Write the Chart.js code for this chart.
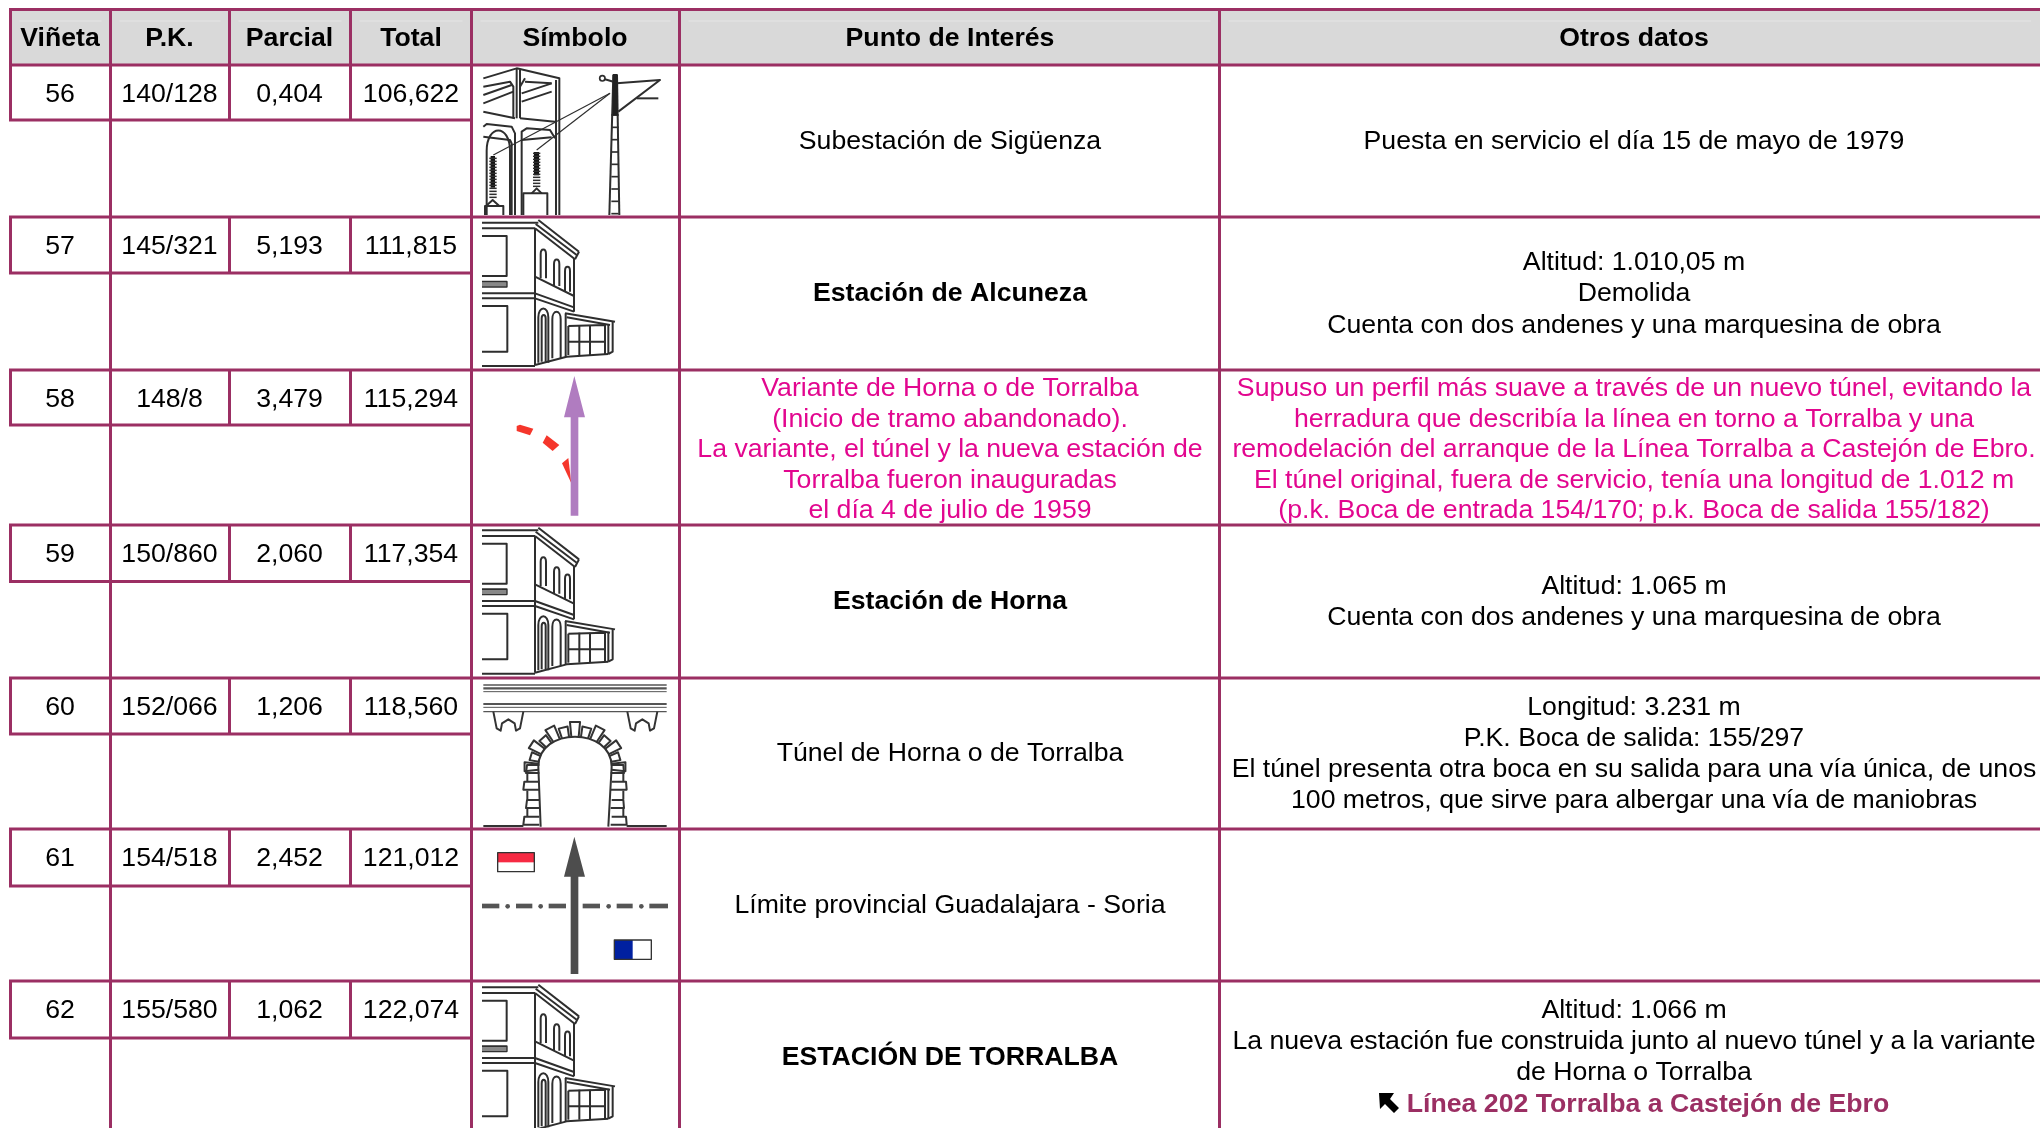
<!DOCTYPE html>
<html lang="es">
<head>
    <meta charset="UTF-8">
    <title> Puntos de interés </title>
    <style>
        body { margin: 0px; background: white; }
        canvas { display: block; }
    </style>
    <script src="https://cdn.jsdelivr.net/npm/chart.js"></script>
</head>
<body>
<canvas id="tabla" width="2040" height="1128"></canvas>

<script>
    // Contents of the table
    const cabeceras = ['Viñeta', 'P.K.', 'Parcial', 'Total', 'Símbolo', 'Punto de Interés', 'Otros datos'];
    const vinetas = ['56', '57', '58', '59', '60', '61', '62'];
    const pks = ['140/128', '145/321', '148/8', '150/860', '152/066', '154/518', '155/580'];
    const parciales = ['0,404', '5,193', '3,479', '2,060', '1,206', '2,452', '1,062'];
    const totales = ['106,622', '111,815', '115,294', '117,354', '118,560', '121,012', '122,074'];
    const simbolos = ['subestacion', 'estacion', 'variante', 'estacion', 'tunel', 'limite', 'estacion'];
    const puntos = [
        ['Subestación de Sigüenza'],
        ['Estación de Alcuneza'],
        ['Variante de Horna o de Torralba', '(Inicio de tramo abandonado).', 'La variante, el túnel y la nueva estación de', 'Torralba fueron inauguradas', 'el día 4 de julio de 1959'],
        ['Estación de Horna'],
        ['Túnel de Horna o de Torralba'],
        ['Límite provincial Guadalajara - Soria'],
        ['ESTACIÓN DE TORRALBA']
    ];
    const puntosNegrita = [false, true, false, true, false, false, true];
    const otros = [
        ['Puesta en servicio el día 15 de mayo de 1979'],
        ['Altitud: 1.010,05 m', 'Demolida', 'Cuenta con dos andenes y una marquesina de obra'],
        ['Supuso un perfil más suave a través de un nuevo túnel, evitando la', 'herradura que describía la línea en torno a Torralba y una', 'remodelación del arranque de la Línea Torralba a Castejón de Ebro.', 'El túnel original, fuera de servicio, tenía una longitud de 1.012 m', '(p.k. Boca de entrada 154/170; p.k. Boca de salida 155/182)'],
        ['Altitud: 1.065 m', 'Cuenta con dos andenes y una marquesina de obra'],
        ['Longitud: 3.231 m', 'P.K. Boca de salida: 155/297', 'El túnel presenta otra boca en su salida para una vía única, de unos', '100 metros, que sirve para albergar una vía de maniobras'],
        [],
        ['Altitud: 1.066 m', 'La nueva estación fue construida junto al nuevo túnel y a la variante', 'de Horna o Torralba']
    ];
    const enlaceLinea = 'Línea 202 Torralba a Castejón de Ebro';

    // Table geometry, in scale units (1 unit = 1 px)
    const MORADO = '#9b2f63';
    const ROSA = '#e2068f';
    const bordesX = [10.5, 110.5, 229.5, 350.5, 471.5, 679.5, 1219.5];
    const finX = 2040;
    const centrosX = [60, 169.5, 289.5, 411, 575, 950, 1634];
    const techo = 9.5;
    const pie = 65;
    const filasArriba = [65, 217, 370, 525, 678, 829, 981];
    const filasSub = [120, 273, 425, 581.5, 734, 886, 1038];
    const filasAbajo = [217, 370, 525, 678, 829, 981, 1133];
    const LINEA = 31.2;

    // Rules of the table, one path with gaps between the segments
    function reglas() {
        let p = [];
        function seg(x1, y1, x2, y2) {
            p.push({x: x1, y: y1}, {x: x2, y: y2}, {x: NaN, y: NaN});
        }
        seg(9, techo, finX, techo);
        seg(9, pie, finX, pie);
        [bordesX[0], bordesX[2], bordesX[3]].forEach(function (x) {
            seg(x, techo, x, pie);
            filasArriba.forEach(function (y, i) { seg(x, y, x, filasSub[i]); });
        });
        [bordesX[1], bordesX[4], bordesX[5], bordesX[6]].forEach(function (x) {
            seg(x, techo, x, 1128);
        });
        filasAbajo.forEach(function (y) { seg(9, y, finX, y); });
        filasSub.forEach(function (y) { seg(9, y, bordesX[4], y); });
        return p;
    }

    // Symbol drawings, coordinates at 3x of the real size
    const estacionTrazos = [
        [36, 518, 205, 518], [36, 535, 195, 535],
        [195, 535, 195, 945], [205, 510, 327, 605], [197, 522, 320, 615], [195, 535, 315, 628], [327, 605, 315, 628],
        [312, 625, 312, 785],
        [36, 558, 110, 558, 110, 678, 36, 678],
        [36, 695, 110, 695, 110, 710, 36, 710],
        [36, 730, 195, 730], [36, 745, 195, 745],
        [36, 768, 112, 768, 112, 905, 36, 905],
        [36, 948, 195, 948],
        [195, 680, 312, 738], [195, 730, 312, 772], [195, 745, 312, 785],
        [195, 945, 290, 920, 415, 912],
        [285, 790, 435, 815], [290, 802, 420, 825],
        [287, 790, 287, 920], [415, 822, 415, 912], [428, 815, 428, 905, 415, 912],
        [295, 828, 405, 825, 405, 912], [295, 828, 295, 915], [295, 875, 405, 875],
        [328, 825, 328, 915], [360, 825, 360, 915]
    ];
    const estacionArcos = [
        [212, 228, 598, 685], [252, 268, 628, 708], [285, 300, 650, 725],
        [205, 235, 775, 938], [215, 227, 795, 935], [247, 272, 785, 925]
    ];
    const subestacionTrazos = [
        [40, 85, 140, 55, 268, 85, 268, 495], [140, 55, 140, 205], [150, 60, 150, 205],
        [258, 90, 258, 495],
        [40, 110, 120, 95, 130, 110, 130, 205], [40, 135, 125, 105], [40, 160, 130, 125],
        [40, 185, 135, 205], [150, 205, 255, 215],
        [165, 95, 245, 100], [155, 130, 245, 100], [155, 155, 245, 125], [165, 85, 150, 110],
        [40, 230, 50, 222, 125, 230, 135, 250, 135, 495], [40, 260, 120, 270, 125, 280, 125, 495],
        [155, 495, 155, 245, 170, 235, 240, 240, 255, 265],
        [155, 270, 245, 262],
        [45, 495, 45, 468, 100, 468, 100, 495], [48, 468, 68, 450, 88, 468],
        [160, 495, 160, 430, 232, 430, 232, 495], [185, 430, 200, 415, 215, 430],
        [418, 495, 430, 75], [448, 495, 441, 75],
        [440, 100, 570, 90, 445, 185], [500, 145, 565, 145],
        [405, 88, 430, 95]
    ];
    const tunelBandas = [[45, 4], [55, 7], [65, 3], [102, 6], [112, 3], [125, 4]];

    function trazo(ctx, t) {
        ctx.beginPath();
        ctx.moveTo(t[0], t[1]);
        for (let i = 2; i < t.length; i += 2) {
            ctx.lineTo(t[i], t[i + 1]);
        }
        ctx.stroke();
    }

    function arco(ctx, a) {
        let h = (a[1] - a[0]) * 0.9;
        ctx.beginPath();
        ctx.moveTo(a[0], a[3]);
        ctx.lineTo(a[0], a[2] + h);
        ctx.bezierCurveTo(a[0], a[2] - h * 0.3, a[1], a[2] - h * 0.3, a[1], a[2] + h);
        ctx.lineTo(a[1], a[3]);
        ctx.stroke();
    }

    function poligono(ctx, t, color) {
        ctx.fillStyle = color;
        ctx.beginPath();
        ctx.moveTo(t[0], t[1]);
        for (let i = 2; i < t.length; i += 2) {
            ctx.lineTo(t[i], t[i + 1]);
        }
        ctx.closePath();
        ctx.fill();
    }

    function dibujaEstacion(ctx) {
        ctx.strokeStyle = '#2e2e2e';
        ctx.lineWidth = 6;
        estacionTrazos.forEach(function (t) { trazo(ctx, t); });
        estacionArcos.forEach(function (a) { arco(ctx, a); });
        ctx.fillStyle = '#888888';
        ctx.fillRect(36, 697, 73, 12);
    }

    function dibujaSubestacion(ctx) {
        ctx.strokeStyle = '#2e2e2e';
        ctx.lineWidth = 6;
        subestacionTrazos.forEach(function (t) { trazo(ctx, t); });
        arco(ctx, [50, 120, 240, 495]);
        ctx.lineWidth = 3.5;
        trazo(ctx, [70, 315, 420, 130]);
        trazo(ctx, [200, 300, 420, 130]);
        // rungs of the pole
        ctx.lineWidth = 5;
        for (let y = 195; y < 495; y += 37) {
            trazo(ctx, [424, y, 446, y]);
        }
        ctx.fillStyle = '#222222';
        ctx.fillRect(428, 72, 15, 125);
        ctx.beginPath();
        ctx.arc(397, 85, 8, 0, Math.PI * 2);
        ctx.stroke();
        // insulators
        ctx.fillStyle = '#111111';
        ctx.fillRect(62, 318, 13, 95);
        ctx.fillRect(192, 306, 15, 70);
        ctx.lineWidth = 4.5;
        for (let y = 325; y < 450; y += 9) {
            trazo(ctx, [58, y, 80, y]);
        }
        for (let y = 310; y < 415; y += 9) {
            trazo(ctx, [189, y, 211, y]);
        }
    }

    function dibujaVariante(ctx) {
        poligono(ctx, [140, 168, 150, 164, 190, 176, 180, 196, 140, 183], '#f5362b');
        poligono(ctx, [230, 196, 268, 225, 248, 243, 218, 218], '#f5362b');
        poligono(ctx, [295, 264, 304, 340, 276, 280], '#f5362b');
        poligono(ctx, [302, 437, 302, 142, 282, 142, 313, 18, 345, 142, 325, 142, 325, 437], '#b07cc0');
    }

    function dibujaTunel(ctx) {
        ctx.strokeStyle = '#555555';
        tunelBandas.forEach(function (b) {
            ctx.lineWidth = b[1];
            trazo(ctx, [40, b[0], 590, b[0]]);
        });
        ctx.lineWidth = 6;
        ctx.strokeStyle = '#333333';
        trazo(ctx, [40, 468, 160, 468]);
        trazo(ctx, [470, 468, 590, 468]);
        // corbels under the band
        [70, 472].forEach(function (x) {
            trazo(ctx, [x, 125, x + 10, 175, x + 22, 182, x + 26, 160, x + 45, 148, x + 64, 160, x + 68, 182, x + 80, 175, x + 90, 125]);
        });
        // ring of the arch
        const cx = 315, cy = 290;
        ctx.beginPath();
        ctx.moveTo(212, 470);
        ctx.lineTo(205, cy);
        ctx.bezierCurveTo(205, 170, 425, 170, 425, cy);
        ctx.lineTo(415, 470);
        ctx.stroke();
        for (let i = 0; i <= 12; i++) {
            let a = Math.PI + i * Math.PI / 12;
            let a1 = a - 0.1, a2 = a + 0.1;
            let rx = i % 2 ? 138 : 152;
            let ry = i % 2 ? 122 : 135;
            trazo(ctx, [
                cx + 110 * Math.cos(a1), cy + 90 * Math.sin(a1),
                cx + rx * Math.cos(a1), cy + ry * Math.sin(a1),
                cx + rx * Math.cos(a2), cy + ry * Math.sin(a2),
                cx + 110 * Math.cos(a2), cy + 90 * Math.sin(a2)
            ]);
        }
        // jamb stones
        [285, 335, 390, 440].forEach(function (y, i) {
            let largo = i % 2 ? 0 : 8;
            trazo(ctx, [208, y, 163 + largo, y, 160 + largo, y + 24, 208, y + 24]);
            trazo(ctx, [425, y, 468 - largo, y, 470 - largo, y + 24, 422, y + 24]);
        });
        [310, 362, 415].forEach(function (y) {
            trazo(ctx, [172, y, 172, y + 26]);
            trazo(ctx, [460, y, 460, y + 26]);
        });
    }

    function dibujaLimite(ctx) {
        ctx.fillStyle = '#555555';
        [[36, 88], [138, 187], [236, 288], [338, 390], [440, 488], [538, 594]].forEach(function (d) {
            ctx.fillRect(d[0], 701, d[1] - d[0], 14);
        });
        [113, 212, 416, 514].forEach(function (x) {
            ctx.beginPath();
            ctx.arc(x, 709, 7, 0, Math.PI * 2);
            ctx.fill();
        });
        poligono(ctx, [302, 912, 302, 620, 282, 620, 313, 500, 345, 620, 325, 620, 325, 912], '#4d4d4d');
        ctx.strokeStyle = '#333333';
        ctx.lineWidth = 4;
        ctx.fillStyle = '#f62a43';
        ctx.fillRect(83, 548, 110, 29);
        ctx.strokeRect(83, 548, 110, 57);
        ctx.fillStyle = '#0020a0';
        ctx.fillRect(433, 810, 55, 58);
        ctx.strokeRect(433, 810, 111, 58);
    }

    // Where each drawing sits: origin of its 3x coordinates, by row
    const origenSimbolo = [[470, 50], [470, 50], [470, 370], [470, 357.7], [470, 670], [470, 670], [470, 814.7]];
    const funciones = {
        subestacion: dibujaSubestacion,
        estacion: dibujaEstacion,
        variante: dibujaVariante,
        tunel: dibujaTunel,
        limite: dibujaLimite
    };

    const tablaPlugin = {
        id: 'tablaPlugin',
        beforeDatasetsDraw: function (chart) {
            const ctx = chart.ctx;
            const sx = chart.scales.x;
            const sy = chart.scales.y;
            ctx.save();
            // grey header band with its faint inner line
            ctx.fillStyle = '#d9d9d9';
            ctx.fillRect(sx.getPixelForValue(10), sy.getPixelForValue(techo), sx.getPixelForValue(finX) - sx.getPixelForValue(10), pie - techo);
            ctx.fillStyle = '#e6e6e6';
            bordesX.forEach(function (x, i) {
                let fin = i + 1 < bordesX.length ? bordesX[i + 1] : finX;
                ctx.fillRect(sx.getPixelForValue(x + 9), sy.getPixelForValue(20.5), fin - x - 18, 1);
            });
            ctx.restore();
        },
        afterDatasetsDraw: function (chart) {
            const ctx = chart.ctx;
            const sx = chart.scales.x;
            const sy = chart.scales.y;

            function texto(t, x, y, fuente, color) {
                ctx.font = fuente;
                ctx.fillStyle = color;
                ctx.fillText(t, sx.getPixelForValue(x), sy.getPixelForValue(y));
            }

            function bloque(lineas, x, yc, fuente, color, alto) {
                let y = yc - (lineas.length - 1) * alto / 2;
                lineas.forEach(function (l, i) {
                    texto(l, x, y + i * alto, fuente, color);
                });
            }

            const normal = '26.67px "Liberation Sans", Arial, sans-serif';
            const negrita = 'bold 26.67px "Liberation Sans", Arial, sans-serif';

            ctx.save();
            ctx.textAlign = 'center';
            ctx.textBaseline = 'middle';

            cabeceras.forEach(function (c, i) {
                texto(c, centrosX[i], 39, negrita, '#000000');
            });

            vinetas.forEach(function (v, i) {
                let yArriba = filasArriba[i] + 29.5;
                let yMedio = (filasArriba[i] + filasAbajo[i]) / 2 + 0.5;
                texto(v, centrosX[0], yArriba, normal, '#000000');
                texto(pks[i], centrosX[1], yArriba, normal, '#000000');
                texto(parciales[i], centrosX[2], yArriba, normal, '#000000');
                texto(totales[i], centrosX[3], yArriba, normal, '#000000');

                let color = i === 2 ? ROSA : '#000000';
                // the pink row is set slightly tighter so it fits its cell
                let alto = i === 2 ? 30.5 : LINEA;
                let yBloque = i === 2 ? yMedio + 2 : yMedio;
                bloque(puntos[i], centrosX[5], yBloque, puntosNegrita[i] ? negrita : normal, color, alto);

                if (i === 6) {
                    // last cell carries the link to the other line underneath
                    bloque(otros[i], centrosX[6], yMedio - LINEA / 2, normal, color, alto);
                    texto(enlaceLinea, 1648, yMedio + LINEA * 1.5, negrita, MORADO);
                } else {
                    bloque(otros[i], centrosX[6], yBloque, normal, color, alto);
                }

                ctx.save();
                ctx.translate(sx.getPixelForValue(origenSimbolo[i][0]), sy.getPixelForValue(origenSimbolo[i][1]));
                ctx.scale(1 / 3, 1 / 3);
                ctx.filter = 'blur(0.6px)';
                ctx.lineJoin = 'round';
                funciones[simbolos[i]](ctx);
                ctx.restore();
            });

            // north-west arrow in front of the link
            ctx.translate(sx.getPixelForValue(1379), sy.getPixelForValue(1093));
            poligono(ctx, [0, 0, 15, 0, 11, 6, 20, 15, 15, 20, 6, 11, 1, 16], '#000000');
            ctx.restore();
        }
    };

    new Chart(document.getElementById('tabla'), {
        type: 'scatter',
        data: {
            datasets: [{
                data: reglas(),
                showLine: true,
                spanGaps: false,
                borderColor: MORADO,
                borderWidth: 3,
                pointRadius: 0,
                borderCapStyle: 'butt'
            }]
        },
        options: {
            responsive: false,
            animation: false,
            devicePixelRatio: 1,
            layout: { padding: 0 },
            plugins: { legend: { display: false }, tooltip: { enabled: false } },
            scales: {
                x: { type: 'linear', display: false, min: 0, max: 2040 },
                y: { type: 'linear', display: false, min: 0, max: 1128, reverse: true }
            }
        },
        plugins: [tablaPlugin]
    });
</script>
</body>
</html>
